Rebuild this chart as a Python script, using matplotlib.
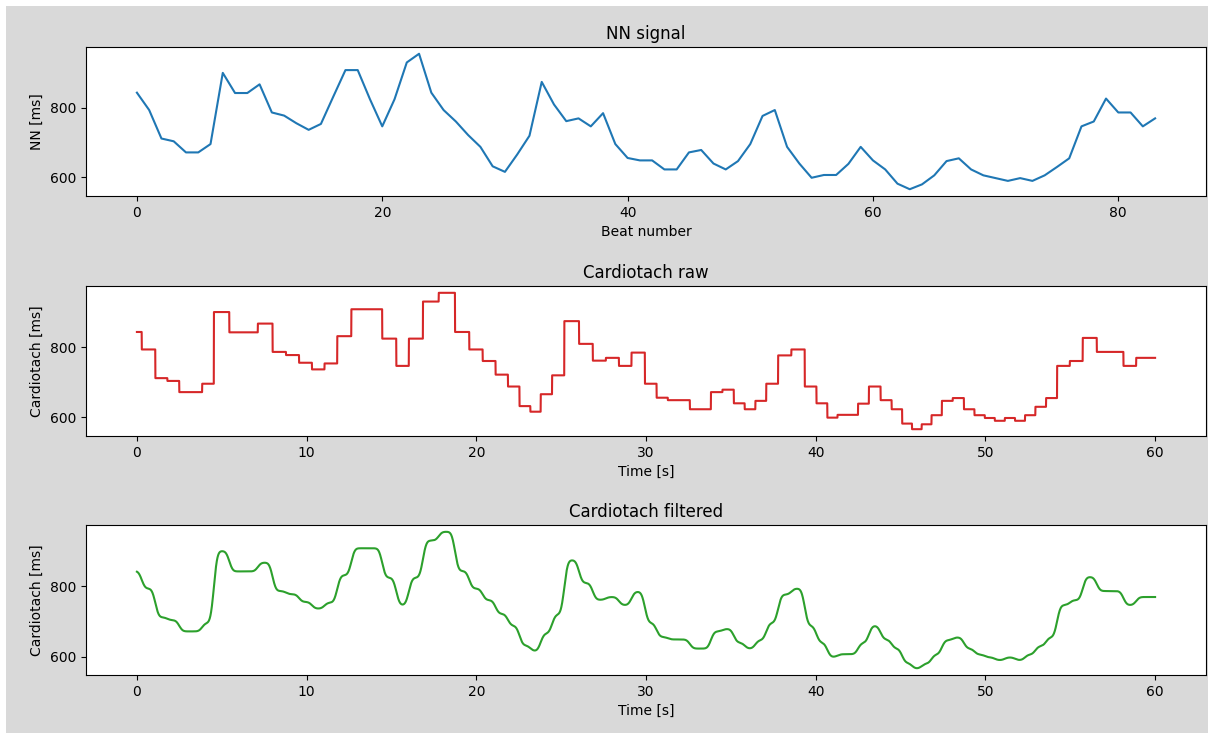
import numpy as np
import matplotlib
matplotlib.use("Agg")
import matplotlib.pyplot as plt
from matplotlib.patches import Rectangle

# NN intervals [ms], one per beat
nn = [844, 794, 712, 704, 672, 672, 696, 901, 843, 843,
      868, 787, 778, 756, 737, 754, 832, 909, 909, 825,
      747, 825, 931, 956, 844, 794, 761, 722, 688, 632,
      616, 666, 720, 875, 810, 762, 770, 747, 785, 696,
      656, 649, 649, 623, 623, 672, 679, 640, 623, 647,
      696, 777, 794, 688, 640, 599, 607, 607, 639, 688,
      649, 623, 582, 566, 580, 606, 647, 655, 623, 606,
      598, 590, 598, 590, 606, 630, 655, 747, 761, 827,
      787, 787, 747, 770]
first_peak = 0.29      # time [s] of the first R peak inside the record
t_end = 60.0           # record length [s]
fs = 100               # cardiotach sampling rate [Hz]
sigma = 0.16           # smoothing width of the filter [s]

nn = np.array(nn, dtype=float)
beats = np.arange(len(nn))

# cardiotach: value of the current NN interval held until the next R peak
peaks = first_peak + np.concatenate([[0], np.cumsum(nn[1:-1]) / 1000])
t = np.arange(0, t_end + 1 / fs / 2, 1 / fs)
raw = nn[np.searchsorted(peaks, t, side="right")]

# low pass (gaussian kernel) of the cardiotach
half = int(4 * sigma * fs)
k = np.exp(-0.5 * (np.arange(-half, half + 1) / (sigma * fs)) ** 2)
k /= k.sum()
filt = np.convolve(np.pad(raw, half, mode="edge"), k, mode="valid")

fig = plt.figure(figsize=(12.08, 7.33), dpi=100, facecolor="white")
fig.patches.append(Rectangle((6 / 1208, 0), 1, 1 - 6 / 733, transform=fig.transFigure,
                             facecolor="#d9d9d9", edgecolor="none", zorder=-10))

left, width, height = 86 / 1208, 1120 / 1208, 150 / 733
ax1 = fig.add_axes([left, 537 / 733, width, 149 / 733])
ax2 = fig.add_axes([left, 297 / 733, width, height])
ax3 = fig.add_axes([left, 58 / 733, width, height])

ax1.plot(beats, nn, color="tab:blue")
ax1.set_title("NN signal")
ax1.set_xlabel("Beat number")
ax1.set_ylabel("NN [ms]")

ax2.plot(t, raw, color="tab:red")
ax2.set_title("Cardiotach raw")
ax2.set_xlabel("Time [s]")
ax2.set_ylabel("Cardiotach [ms]")

ax3.plot(t, filt, color="tab:green")
ax3.set_title("Cardiotach filtered")
ax3.set_xlabel("Time [s]")
ax3.set_ylabel("Cardiotach [ms]")

for ax in (ax1, ax2, ax3):
    ax.set_yticks([600, 800])

fig.savefig("out.png", dpi=100, facecolor=fig.get_facecolor())
